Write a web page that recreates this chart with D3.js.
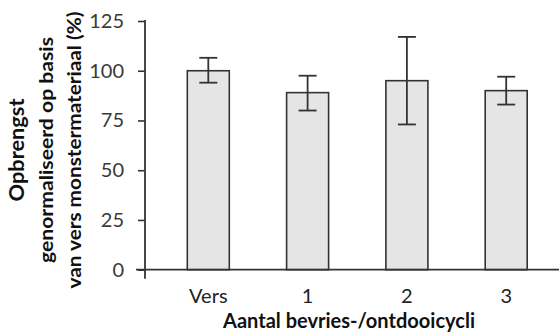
<!DOCTYPE html>
<html>
<head>
<meta charset="utf-8">
<script src="https://cdn.jsdelivr.net/npm/d3@7"></script>
<style>
  html, body { margin: 0; padding: 0; background: #fff; }
  svg { display: block; }
  text { font-family: Lato, "DejaVu Sans", sans-serif; }
</style>
</head>
<body>
<svg id="chart" width="559" height="333"></svg>
<script>
// chart data
const categories = ["Vers", "1", "2", "3"];
const yields = [100, 89, 95, 90];
const errLow = [94, 80, 73, 83];
const errHigh = [106.5, 97.5, 117, 97];
const yTicks = [0, 25, 50, 75, 100, 125];
const yTitle = ["Opbrengst", "genormaliseerd op basis", "van vers monstermateriaal (%)"];
const xTitle = "Aantal bevries-/ontdooicycli";

const rows = categories.map((c, i) => ({
  cat: c, value: yields[i], lo: errLow[i], hi: errHigh[i]
}));

const W = 559, H = 333;
const axisX = 145, axisY = 269.7;
const ink = "#333";

const svg = d3.select("#chart");

const x = d3.scaleBand()
  .domain(categories)
  .range([axisX, 569.5])
  .paddingInner(0.577)
  .paddingOuter(0.426);

const y = d3.scaleLinear()
  .domain([0, 125])
  .range([axisY, 21]);

// bars
svg.append("g")
  .selectAll("rect")
  .data(rows)
  .join("rect")
  .attr("x", d => x(d.cat))
  .attr("y", d => y(d.value))
  .attr("width", x.bandwidth())
  .attr("height", d => y(0) - y(d.value))
  .attr("fill", "#e5e5e5")
  .attr("stroke", ink)
  .attr("stroke-width", 1.6);

// error bars
const cap = 9;
const eb = svg.append("g")
  .attr("stroke", ink)
  .attr("stroke-width", 1.8)
  .selectAll("g")
  .data(rows)
  .join("g")
  .attr("transform", d => "translate(" + (x(d.cat) + x.bandwidth() / 2) + ",0)");
eb.append("line")
  .attr("y1", d => y(d.lo))
  .attr("y2", d => y(d.hi));
eb.append("line")
  .attr("x1", -cap).attr("x2", cap)
  .attr("y1", d => y(d.hi)).attr("y2", d => y(d.hi));
eb.append("line")
  .attr("x1", -cap).attr("x2", cap)
  .attr("y1", d => y(d.lo)).attr("y2", d => y(d.lo));

// y axis
const yAxis = svg.append("g")
  .attr("transform", "translate(" + axisX + ",0)")
  .call(d3.axisLeft(y).tickValues(yTicks).tickSize(7).tickPadding(14));
yAxis.select(".domain").remove();
yAxis.selectAll(".tick line").attr("stroke", ink).attr("stroke-width", 1.6);
yAxis.selectAll(".tick text")
  .attr("fill", "#3a3a3a")
  .style("font-size", "20px")
  .style("font-family", "Lato, sans-serif");

yAxis.append("line")
  .attr("y1", y(125) - 1)
  .attr("y2", axisY + 9)
  .attr("stroke", ink)
  .attr("stroke-width", 1.8);

// x axis
const xAxis = svg.append("g")
  .attr("transform", "translate(0," + axisY + ")")
  .call(d3.axisBottom(x).tickSize(0).tickPadding(19));
xAxis.select(".domain").remove();
xAxis.selectAll(".tick text")
  .attr("fill", "#222")
  .style("font-size", "20px");
xAxis.append("line")
  .attr("x1", axisX - 9)
  .attr("x2", W)
  .attr("stroke", ink)
  .attr("stroke-width", 1.8);

// axis titles
const yt = svg.append("g")
  .attr("transform", "translate(0,150) rotate(-90)");
const yBase = [24, 52.5, 80.5];
const yLen = [103, 226, 277];
yt.selectAll("text")
  .data(yTitle)
  .join("text")
  .attr("x", 0)
  .attr("y", (d, i) => yBase[i])
  .attr("text-anchor", "middle")
  .attr("font-weight", "bold")
  .attr("fill", "#111")
  .style("font-size", (d, i) => i === 0 ? "20px" : "19px")
  .attr("textLength", (d, i) => yLen[i])
  .attr("lengthAdjust", "spacingAndGlyphs")
  .text(d => d);

svg.append("text")
  .attr("x", 349)
  .attr("y", 328)
  .attr("text-anchor", "middle")
  .attr("font-weight", "bold")
  .attr("fill", "#111")
  .style("font-size", "21px")
  .attr("textLength", 252)
  .attr("lengthAdjust", "spacingAndGlyphs")
  .text(xTitle);
</script>
</body>
</html>
